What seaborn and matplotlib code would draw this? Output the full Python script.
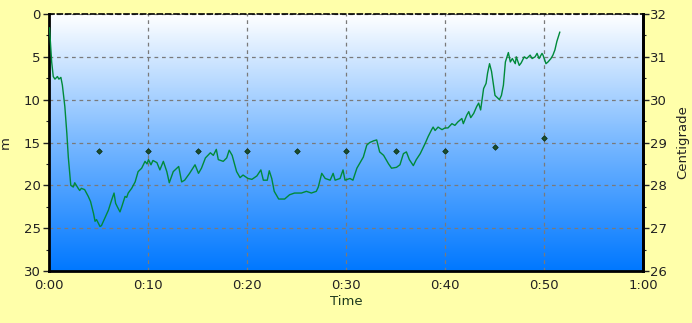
import numpy as np
import pandas as pd
import matplotlib
matplotlib.use("Agg")
import matplotlib.pyplot as plt
import seaborn as sns
from matplotlib.colors import LinearSegmentedColormap
from matplotlib.ticker import MultipleLocator

# ---- data ----
time_min = [0.05, 0.27, 0.43, 0.6, 0.85, 1.0, 1.2, 1.35, 1.6, 1.8, 1.95, 2.1, 2.2, 2.45, 2.6,
            2.95, 3.1, 3.27, 3.6, 3.97, 4.2, 4.5, 4.65, 4.8, 5.15, 5.3, 5.65, 6.0, 6.33, 6.57,
            6.73, 6.9, 7.17, 7.35, 7.68, 7.85, 8.0, 8.35, 8.7, 9.0, 9.36, 9.7, 9.9, 10.05, 10.3,
            10.5, 10.9, 11.2, 11.55, 11.9, 12.15, 12.55, 13.1, 13.4, 13.7, 14.2, 14.75, 15.1, 15.4,
            15.8, 16.3, 16.6, 16.9, 17.1, 17.6, 17.95, 18.2, 18.5, 18.95, 19.3, 19.6, 20.1, 20.5,
            21.0, 21.4, 21.65, 22.05, 22.25, 22.5, 22.75, 23.2, 23.8, 24.3, 24.8, 25.5, 26.0, 26.5,
            27.0, 27.2, 27.55, 27.9, 28.4, 28.7, 28.9, 29.4, 29.7, 29.9, 30.4, 30.7, 31.1, 31.4,
            31.75, 32.1, 32.4, 32.8, 33.1, 33.4, 33.8, 34.3, 34.6, 35.1, 35.45, 35.8, 36.1, 36.4,
            36.8, 37.1, 37.5, 38.0, 38.3, 38.65, 38.8, 39.0, 39.3, 39.7, 40.0, 40.3, 40.7, 41.0,
            41.3, 41.7, 41.85, 42.2, 42.4, 42.6, 42.9, 43.2, 43.4, 43.6, 43.9, 44.15, 44.3, 44.5,
            44.7, 45.05, 45.5, 45.7, 45.9, 46.1, 46.4, 46.6, 46.8, 47.1, 47.2, 47.5, 47.7, 48.0,
            48.25, 48.6, 48.8, 49.1, 49.3, 49.5, 49.8, 49.9, 50.2, 50.4, 50.7, 50.9, 51.1, 51.3, 51.6]
depth_m = [1.6, 5.6, 7.3, 7.6, 7.3, 7.6, 7.4, 8.3, 10.8, 13.9, 16.7, 18.6, 20.0, 20.2, 19.7,
           20.35, 20.6, 20.35, 20.5, 21.3, 21.9, 23.3, 24.2, 24.0, 24.8, 24.7, 23.8, 22.9, 21.7, 20.9,
           22.1, 22.5, 23.1, 22.5, 21.3, 21.4, 20.9, 20.35, 19.6, 18.4, 18.0, 17.2, 17.5, 17.0, 17.6,
           17.1, 17.35, 18.2, 17.2, 18.4, 19.7, 18.4, 17.8, 19.6, 19.4, 18.6, 17.6, 18.6, 18.0,
           16.8, 16.2, 16.5, 15.8, 17.0, 17.2, 16.8, 15.9, 16.5, 18.4, 19.1, 18.8, 19.2, 19.3,
           18.9, 18.2, 19.4, 19.4, 18.3, 19.2, 20.7, 21.6, 21.6, 21.1, 20.9, 20.9, 20.7, 20.9,
           20.7, 20.2, 18.6, 19.2, 19.4, 18.6, 19.4, 19.2, 18.2, 19.4, 19.2, 19.4, 18.0, 17.4,
           16.7, 15.3, 15.0, 14.8, 14.7, 16.1, 16.5, 17.5, 18.0, 17.9, 17.6, 16.3, 16.1, 17.0,
           17.7, 17.0, 16.3, 15.1, 14.3, 13.5, 13.2, 13.6, 13.2, 13.5, 13.3, 13.3, 12.8, 13.0,
           12.6, 12.2, 12.8, 11.8, 11.4, 12.1, 11.6, 10.8, 10.4, 11.2, 8.7, 8.1, 6.9, 5.8,
           6.7, 9.5, 10.0, 9.5, 8.3, 5.6, 4.5, 5.6, 5.2, 5.8, 5.0, 6.0, 5.7, 5.0,
           5.2, 4.8, 5.2, 5.0, 4.6, 5.2, 4.6, 4.8, 5.8, 5.6, 5.2, 4.8, 4.2, 3.2, 2.1]

temp_time_min = [5, 10, 15, 20, 25, 30, 35, 40, 45, 50]
temp_c = [28.8, 28.8, 28.8, 28.8, 28.8, 28.8, 28.8, 28.8, 28.9, 29.1]

x_ticks = [0, 10, 20, 30, 40, 50, 60]
x_tick_labels = ["0:00", "0:10", "0:20", "0:30", "0:40", "0:50", "1:00"]
depth_ticks = [0, 5, 10, 15, 20, 25, 30]
temp_ticks = [26, 27, 28, 29, 30, 31, 32]

# ---- figure ----
sns.set_style("white")
plt.rcParams["font.family"] = ["DejaVu Sans"]
plt.rcParams["font.size"] = 9

bg = "#FFFFAA"
fig = plt.figure(figsize=(6.92, 3.23), dpi=100, facecolor=bg)
ax = fig.add_axes([49 / 692, 1 - 271 / 323, (643 - 49) / 692, (271 - 14) / 323])

# gradient background
cmap = LinearSegmentedColormap.from_list(
    "water", [(0.0, "#FFFFFF"), (0.5, "#78B8FF"), (1.0, "#0078FF")])
grad = np.linspace(0, 1, 256).reshape(-1, 1)
ax.imshow(grad, cmap=cmap, aspect="auto", extent=[0, 60, 30, 0], zorder=0,
          interpolation="bicubic")

df = pd.DataFrame({"t": time_min, "d": depth_m})
sns.lineplot(data=df, x="t", y="d", ax=ax, color="#008A3A", linewidth=1.0,
             sort=False, estimator=None, zorder=3)

ax.set_xlim(0, 60)
ax.set_ylim(30, 0)
ax.set_xticks(x_ticks)
ax.set_xticklabels(x_tick_labels)
ax.set_yticks(depth_ticks)
ax.xaxis.set_minor_locator(MultipleLocator(2.5))
ax.yaxis.set_minor_locator(MultipleLocator(2.5))
ax.grid(True, which="major", color="#7A7A7A", linestyle=(0, (3, 3)), linewidth=0.9)
for gl in ax.get_xgridlines() + ax.get_ygridlines():
    gl.set_zorder(1)
ax.tick_params(axis="both", which="major", direction="out", length=4, width=1,
               colors="#222222", labelsize=9.5, pad=2)
ax.tick_params(axis="both", which="minor", direction="out", length=2.5, width=0.8,
               colors="#222222")
ax.set_xlabel("Time", fontsize=9.5, color="#1E3A1E", labelpad=2)
ax.set_ylabel("m", fontsize=9.5, color="#222222")
ax.yaxis.set_label_coords(-0.062, 0.5)

for s in ["left", "bottom", "right"]:
    ax.spines[s].set_color("black")
    ax.spines[s].set_linewidth(2)
ax.spines["top"].set_color("black")
ax.spines["top"].set_linewidth(1.2)
ax.spines["top"].set_linestyle((0, (3, 2)))

ax2 = ax.twinx()
tdf = pd.DataFrame({"t": temp_time_min, "c": temp_c})
sns.scatterplot(data=tdf, x="t", y="c", ax=ax2, marker="D", s=8, color="#1A4F2E",
                edgecolor="#0A2A10", linewidth=0.5, zorder=4)
ax2.set_ylim(26, 32)
ax2.set_yticks(temp_ticks)
ax2.yaxis.set_minor_locator(MultipleLocator(0.5))
ax2.tick_params(axis="y", which="major", direction="out", length=4, width=1,
                colors="#222222", labelsize=9.5, pad=1, right=True)
ax2.tick_params(axis="y", which="minor", direction="out", length=2.5, width=0.8,
                colors="#222222", right=True)
ax2.set_ylabel("Centigrade", fontsize=9.5, color="#222222", labelpad=7)
ax2.set_xlabel("")
for s in ["left", "bottom", "top"]:
    ax2.spines[s].set_visible(False)
ax2.spines["right"].set_color("black")
ax2.spines["right"].set_linewidth(2)
ax2.grid(False)

fig.savefig("out.png", dpi=100, facecolor=bg)
